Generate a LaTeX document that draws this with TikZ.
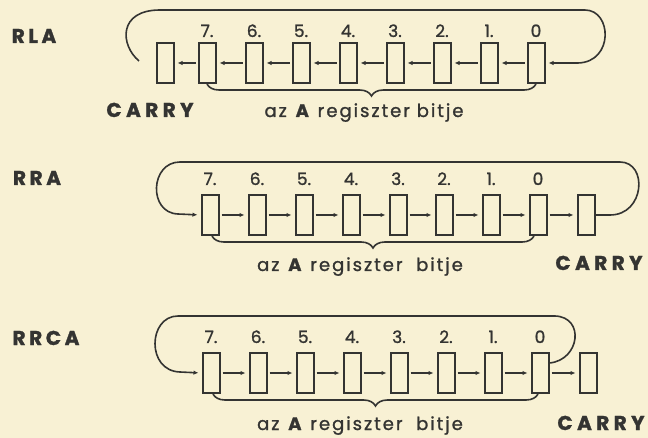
\documentclass[tikz,border=0pt]{standalone}
\usepackage{fontspec}
\setmainfont{Poppins}
\usetikzlibrary{arrows.meta,decorations.pathreplacing}
\definecolor{paper}{RGB}{248,241,212}
\definecolor{ink}{RGB}{52,52,50}
\begin{document}
\begin{tikzpicture}[x=1pt,y=-1pt,
  bitbox/.style={draw=ink, line width=2pt, minimum width=17pt, minimum height=40pt, inner sep=0pt},
  arr/.style={draw=ink, line width=1.3pt, -{Latex[length=5pt,width=4.5pt]}, shorten >=3pt, shorten <=2pt},
  looppath/.style={draw=ink, line width=1.6pt},
  looparr/.style={looppath, -{Latex[length=5pt,width=4.5pt]}, shorten >=3pt},
  brc/.style={draw=ink, line width=1.6pt, decorate, decoration={brace,mirror,amplitude=12pt}},
  num/.style={text=ink, font=\fontsize{17}{17}\selectfont\addfontfeature{FakeBold=1.2}, inner sep=0pt, anchor=base},
  ttl/.style={text=ink, font=\fontsize{20}{20}\selectfont\bfseries\addfontfeature{LetterSpace=18,FakeBold=1.5}, inner sep=0pt, anchor=base},
  cry/.style={text=ink, font=\fontsize{20}{20}\selectfont\bfseries\addfontfeature{LetterSpace=22,FakeBold=1.5}, inner sep=0pt, anchor=base},
  reg/.style={text=ink, font=\fontsize{18}{18}\selectfont\addfontfeature{LetterSpace=11,FakeBold=1.2}, inner sep=0pt, anchor=base}
]
\useasboundingbox (0,0) rectangle (648,438);
\fill[paper] (0,0) rectangle (648,438);

% ---------------- RLA ----------------
\node[ttl] (tRLA) at (34,43) {RLA};
\foreach \i/\x/\t in {7/207/7., 6/254/6., 5/301/5., 4/348/4., 3/395/3., 2/442/2., 1/489/1., 0/536/0}{
  \node[bitbox] (a\i) at (\x,63) {};
  \node[num] (na\i) at (\x,37) {\t};
}
\node[bitbox] (aC) at (165,63) {};
\foreach \r/\l in {0/1,1/2,2/3,3/4,4/5,5/6,6/7}{
  \draw[arr] (a\r.west) -- (a\l.east);
}
\draw[arr] (a7.west) -- (aC.east);
\coordinate (aL) at (139,61);
\draw[looparr] (aL) .. controls (120,45) and (118,10) .. (160,10) -- (585,10)
  .. controls (612,10) and (614,62) .. (578,63) -- (a0.east);
\draw[brc] (a7.south) -- (a0.south);
\node[cry] (cA) at (150,117) {CARRY};
\node[reg] (rA) at (364,117) {az \textbf{A} regiszter bitje};

% ---------------- RRA ----------------
\node[ttl] (tRRA) at (37,185) {RRA};
\foreach \i/\x/\t in {7/210/7., 6/257/6., 5/304/5., 4/351/4., 3/398/3., 2/444/2., 1/491/1., 0/538/0}{
  \node[bitbox] (b\i) at (\x,215) {};
  \node[num] (nb\i) at (\x,185) {\t};
}
\node[bitbox] (bC) at (586,215) {};
\foreach \l/\r in {7/6,6/5,5/4,4/3,3/2,2/1,1/0}{
  \draw[arr] (b\l.east) -- (b\r.west);
}
\draw[arr] (b0.east) -- (bC.west);
\draw[looparr] (bC.east) -- (610,215) .. controls (645,215) and (648,162) .. (620,162)
  -- (180,162) .. controls (150,162) and (148,213) .. (178,214) -- (b7.west);
\draw[brc] ([xshift=2pt]b7.south) -- ([xshift=-4pt]b0.south);
\node[cry] (cB) at (599,270) {CARRY};
\node[reg] (rB) at (360,271) {az \textbf{A} regiszter \ bitje};

% ---------------- RRCA ----------------
\node[ttl] (tRRCA) at (46,345) {RRCA};
\foreach \i/\x/\t in {7/211/7., 6/258/6., 5/305/5., 4/352/4., 3/399/3., 2/446/2., 1/493/1., 0/540/0}{
  \node[bitbox] (c\i) at (\x,373) {};
  \node[num] (nc\i) at (\x,343) {\t};
}
\node[bitbox] (cC) at (588,373) {};
\foreach \l/\r in {7/6,6/5,5/4,4/3,3/2,2/1,1/0}{
  \draw[arr] (c\l.east) -- (c\r.west);
}
\draw[arr] (c0.east) -- (cC.west);
\draw[looparr] ([yshift=10pt]c0.east) .. controls (580,360) and (585,317) .. (555,316)
  -- (178,316) .. controls (148,316) and (146,371) .. (180,372) -- (c7.west);
\draw[brc] ([xshift=2pt]c7.south) -- ([xshift=-2pt]c0.south);
\node[cry] (cCt) at (601,430) {CARRY};
\node[reg] (rC) at (360,430) {az \textbf{A} regiszter \ bitje};
\end{tikzpicture}
\end{document}
